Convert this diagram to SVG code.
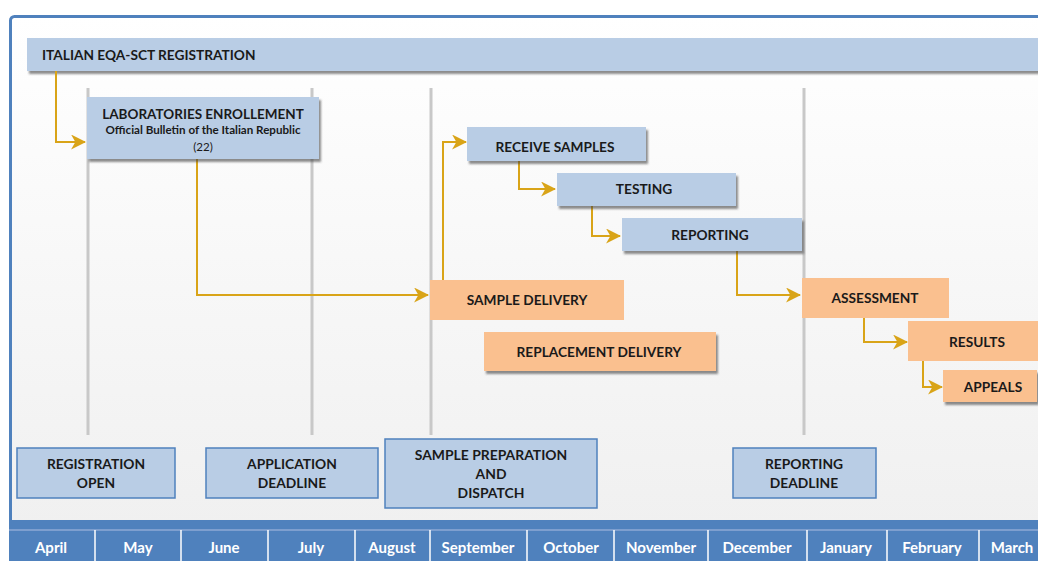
<svg xmlns="http://www.w3.org/2000/svg" width="1038" height="561" viewBox="0 0 1038 561">
<defs>
<linearGradient id="bg" x1="0" y1="0" x2="0" y2="1">
<stop offset="0" stop-color="#ffffff"/>
<stop offset="1" stop-color="#f0f0f0"/>
</linearGradient>
<filter id="sh" x="-5%" y="-10%" width="115%" height="140%">
<feDropShadow dx="2" dy="3" stdDeviation="1.2" flood-color="#404040" flood-opacity="0.6"/>
</filter>
<marker id="ah" viewBox="0 0 14 14" refX="13" refY="7" markerWidth="15" markerHeight="15" markerUnits="userSpaceOnUse" orient="auto">
<path d="M0,0 L14,7 L0,14 L4,7 z" fill="#d9a418"/>
</marker>
<style>
.t{font-family:Lato,"Liberation Sans",sans-serif;font-weight:bold;fill:#1a1a1a;text-anchor:middle}
.blue{fill:#b9cde5}
.or{fill:#fac08f}
.bb{fill:#b9cde5;stroke:#4f81bd;stroke-width:1.5}
.vl{stroke:#c8c8c8;stroke-width:3}
.c{fill:none;stroke:#d9a418;stroke-width:2;marker-end:url(#ah)}
.m{font-family:Lato,"Liberation Sans",sans-serif;font-weight:bold;fill:#ffffff;text-anchor:middle;font-size:15px}
.md{stroke:#ffffff;stroke-width:1.5}
</style>
</defs>
<rect width="1038" height="561" fill="#ffffff"/>
<rect x="10.5" y="16.5" width="1040" height="510" rx="4" fill="url(#bg)" stroke="#4f81bd" stroke-width="3"/>
<g id="gridlines">
<line class="vl" x1="88" y1="88" x2="88" y2="435"/>
<line class="vl" x1="312" y1="88" x2="312" y2="435"/>
<line class="vl" x1="431" y1="88" x2="431" y2="435"/>
<line class="vl" x1="804" y1="88" x2="804" y2="435"/>
</g>
<g id="registration">
<rect class="blue" x="27" y="38" width="1020" height="33" fill="#b8c8e2" filter="url(#sh)"/>
<text class="t" x="42" y="60" font-size="13.7" style="text-anchor:start">ITALIAN EQA-SCT REGISTRATION</text>
</g>
<g id="connectors">
<polyline class="c" points="56,71 56,142 85,142"/>
<polyline class="c" points="197,159 197,295 428,295"/>
<polyline class="c" points="443,280 443,142 466,142"/>
<polyline class="c" points="519,161 519,189 555,189"/>
<polyline class="c" points="592,206 592,236 620,236"/>
<polyline class="c" points="737,251 737,295 800,295"/>
<polyline class="c" points="864,318 864,342 907,342"/>
<polyline class="c" points="923,361 923,387 942,387"/>
</g>
<g id="lab-enrollment">
<rect class="blue" x="87" y="97" width="232" height="62" filter="url(#sh)"/>
<text class="t" x="203" y="119" font-size="13.5">LABORATORIES ENROLLEMENT</text>
<text class="t" x="203" y="134" font-size="11.6">Official Bulletin of the Italian Republic</text>
<text class="t" x="203" y="151" font-size="11.6" style="font-weight:normal">(22)</text>
</g>
<g id="receive-samples">
<rect class="blue" x="467" y="127" width="179" height="34" filter="url(#sh)"/>
<text class="t" x="555" y="152" font-size="13.7">RECEIVE SAMPLES</text>
</g>
<g id="testing">
<rect class="blue" x="557" y="173" width="179" height="33" filter="url(#sh)"/>
<text class="t" x="644" y="194" font-size="13.7">TESTING</text>
</g>
<g id="reporting">
<rect class="blue" x="622" y="218" width="180" height="33" filter="url(#sh)"/>
<text class="t" x="710" y="240" font-size="13.7">REPORTING</text>
</g>
<g id="sample-delivery">
<rect class="or" x="430" y="280" width="194" height="40"/>
<text class="t" x="527" y="305" font-size="13.7">SAMPLE DELIVERY</text>
</g>
<g id="replacement-delivery">
<rect class="or" x="484" y="332" width="232" height="39" filter="url(#sh)"/>
<text class="t" x="599" y="357" font-size="13.7">REPLACEMENT DELIVERY</text>
</g>
<g id="assessment">
<rect class="or" x="802" y="278" width="147" height="40"/>
<text class="t" x="875" y="303" font-size="13.7">ASSESSMENT</text>
</g>
<g id="results">
<rect class="or" x="908" y="321" width="140" height="40"/>
<text class="t" x="977" y="347" font-size="13.7">RESULTS</text>
</g>
<g id="appeals">
<rect class="or" x="943" y="370" width="94" height="32" filter="url(#sh)"/>
<text class="t" x="993" y="392" font-size="13.7">APPEALS</text>
</g>
<g id="registration-open">
<rect class="bb" x="17" y="448" width="158" height="50"/>
<text class="t" x="96" y="469" font-size="13.8">REGISTRATION</text>
<text class="t" x="96" y="488" font-size="13.8">OPEN</text>
</g>
<g id="application-deadline">
<rect class="bb" x="206" y="448" width="172" height="50"/>
<text class="t" x="292" y="469" font-size="13.8">APPLICATION</text>
<text class="t" x="292" y="488" font-size="13.8">DEADLINE</text>
</g>
<g id="sample-preparation">
<rect class="bb" x="385" y="439" width="212" height="69"/>
<text class="t" x="491" y="460" font-size="13.9">SAMPLE PREPARATION</text>
<text class="t" x="491" y="479" font-size="13.9">AND</text>
<text class="t" x="491" y="498" font-size="13.9">DISPATCH</text>
</g>
<g id="reporting-deadline">
<rect class="bb" x="733" y="448" width="143" height="50"/>
<text class="t" x="804" y="469" font-size="13.8">REPORTING</text>
<text class="t" x="804" y="488" font-size="13.8">DEADLINE</text>
</g>
<g id="months">
<rect x="9" y="520" width="1040" height="41" fill="#4f81bd"/>
<line x1="9" y1="530" x2="1038" y2="530" stroke="#8eaad6" stroke-width="1.5"/>
<line class="md" x1="95" y1="530" x2="95" y2="561"/>
<line class="md" x1="181" y1="530" x2="181" y2="561"/>
<line class="md" x1="268" y1="530" x2="268" y2="561"/>
<line class="md" x1="355" y1="530" x2="355" y2="561"/>
<line class="md" x1="430" y1="530" x2="430" y2="561"/>
<line class="md" x1="527" y1="530" x2="527" y2="561"/>
<line class="md" x1="614" y1="530" x2="614" y2="561"/>
<line class="md" x1="708" y1="530" x2="708" y2="561"/>
<line class="md" x1="807" y1="530" x2="807" y2="561"/>
<line class="md" x1="887" y1="530" x2="887" y2="561"/>
<line class="md" x1="979" y1="530" x2="979" y2="561"/>
<text class="m" x="51" y="553">April</text>
<text class="m" x="138" y="553">May</text>
<text class="m" x="224" y="553">June</text>
<text class="m" x="311" y="553">July</text>
<text class="m" x="392" y="553">August</text>
<text class="m" x="478" y="553">September</text>
<text class="m" x="571" y="553">October</text>
<text class="m" x="661" y="553">November</text>
<text class="m" x="757" y="553">December</text>
<text class="m" x="846" y="553">January</text>
<text class="m" x="932" y="553">February</text>
<text class="m" x="1012" y="553">March</text>
</g>
</svg>
